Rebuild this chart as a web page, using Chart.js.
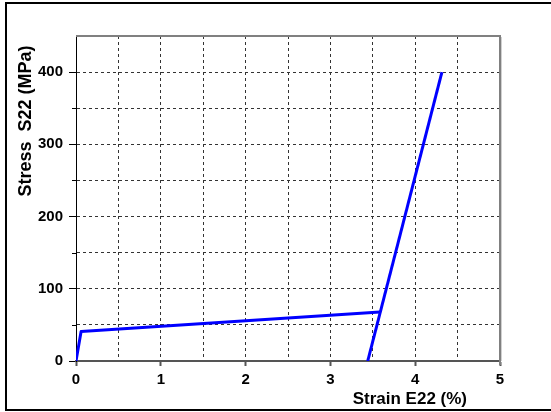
<!DOCTYPE html>
<html>
<head>
<meta charset="utf-8">
<script src="https://cdn.jsdelivr.net/npm/chart.js@4"></script>
<style>
    body { margin: 0; background: #fff; overflow: hidden; }
    #wrap { position: relative; width: 551px; height: 412px; }
    #frame { position: absolute; left: 5px; top: 2px; width: 600px; height: 405px; border: 2px solid #000; pointer-events: none; }
</style>
</head>
<body>
<div id="wrap">
    <canvas id="stressChart" width="551" height="412"></canvas>
    <div id="frame"></div>
</div>
<script>
// loading branch and the steep reloading branch
const loadStrain = [0, 0.06, 3.585];
const loadStress = [0, 41, 68];
const reloadStrain = [3.44, 4.315];
const reloadStress = [0, 400];

const xTitle = 'Strain E22 (%)';
const yTitle = 'Stress  S22 (MPa)';
const xMax = 5;
const yMax = 450;

const toPoints = (xs, ys) => xs.map((x, i) => ({ x: x, y: ys[i] }));

const labelFont = { family: 'Liberation Sans, Arial, sans-serif', size: 15, weight: 'bold' };

// titles, minor y ticks and the grey top/right frame
const extras = {
    id: 'extras',
    afterDraw(chart) {
        const ctx = chart.ctx;
        const a = chart.chartArea;
        const y = chart.scales.y;
        ctx.save();
        ctx.strokeStyle = '#000';
        ctx.lineWidth = 1;
        for (let v = 50; v < yMax; v += 100) {
            const py = Math.round(y.getPixelForValue(v)) + 0.5;
            ctx.beginPath();
            ctx.moveTo(a.left - 4, py);
            ctx.lineTo(a.left, py);
            ctx.stroke();
        }
        ctx.strokeStyle = '#808080';
        ctx.lineWidth = 2;
        ctx.beginPath();
        ctx.moveTo(a.left, a.top);
        ctx.lineTo(a.right, a.top);
        ctx.lineTo(a.right, a.bottom + 4);
        ctx.stroke();
        ctx.strokeStyle = '#d0d0d0';
        ctx.lineWidth = 1;
        ctx.beginPath();
        ctx.moveTo(a.right + 1.5, a.top + 1);
        ctx.lineTo(a.right + 1.5, a.bottom);
        ctx.stroke();

        ctx.fillStyle = '#000';
        ctx.font = 'bold 17px "Liberation Sans", Arial, sans-serif';
        ctx.textAlign = 'right';
        ctx.textBaseline = 'alphabetic';
        ctx.fillText(xTitle, 467, 404);
        ctx.translate(31, 121);
        ctx.rotate(-Math.PI / 2);
        ctx.textAlign = 'center';
        ctx.font = 'bold 18px "Liberation Sans", Arial, sans-serif';
        ctx.fillText(yTitle, 0, 0);
        ctx.restore();
    }
};

new Chart(document.getElementById('stressChart'), {
    type: 'line',
    data: {
        datasets: [
            { data: toPoints(loadStrain, loadStress), borderColor: '#0000ff', borderWidth: 3, pointRadius: 0, tension: 0 },
            { data: toPoints(reloadStrain, reloadStress), borderColor: '#0000ff', borderWidth: 3, pointRadius: 0, tension: 0 }
        ]
    },
    options: {
        responsive: false,
        animation: false,
        devicePixelRatio: 1,
        layout: { padding: { top: 36, right: 51, left: 0, bottom: 0 } },
        plugins: { legend: { display: false }, tooltip: { enabled: false } },
        scales: {
            x: {
                type: 'linear',
                min: 0,
                max: xMax,
                afterFit: (s) => { s.height = 51; },
                grid: {
                    color: (c) => (c.tick && (c.tick.value === 0 || c.tick.value === xMax)) ? 'transparent' : '#333',
                    tickColor: (c) => (c.tick && Number.isInteger(c.tick.value)) ? '#555' : 'transparent',
                    tickLength: 5,
                    tickWidth: 2,
                    tickBorderDash: []
                },
                border: { color: '#555', width: 2, dash: [3, 3] },
                ticks: {
                    stepSize: 0.5,
                    padding: 5,
                    maxRotation: 0,
                    autoSkip: false,
                    color: '#000',
                    font: labelFont,
                    callback: (v) => Number.isInteger(v) ? v : ''
                }
            },
            y: {
                min: 0,
                max: yMax,
                afterFit: (s) => { s.width = 76; },
                grid: {
                    color: (c) => (c.tick && (c.tick.value === 0 || c.tick.value === yMax)) ? 'transparent' : '#333',
                    tickColor: (c) => (c.tick && c.tick.value % 100 === 0) ? '#000' : 'transparent',
                    tickLength: 7,
                    tickBorderDash: []
                },
                border: { color: '#000', width: 1, dash: [3, 3] },
                ticks: {
                    stepSize: 50,
                    padding: 6,
                    autoSkip: false,
                    color: '#000',
                    font: labelFont,
                    callback: (v) => v % 100 === 0 ? v : ''
                }
            }
        },
        elements: { line: { borderJoinStyle: 'round' } }
    },
    plugins: [extras]
});
</script>
</body>
</html>
